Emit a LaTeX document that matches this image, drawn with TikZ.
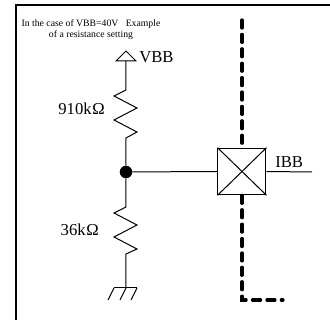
\documentclass[tikz,border=0pt]{standalone}
\usepackage{fontspec}
\setmainfont{Liberation Serif}
\usepackage{tikz}
\usetikzlibrary{positioning}
\usetikzlibrary{calc}
\tikzstyle{wire}=[line width=0.75pt]
\tikzstyle{frameline}=[line width=1.5pt]
\tikzstyle{bus}=[line width=2.4pt,line cap=round,dash pattern=on 6pt off 4.8pt]
\tikzstyle{junction}=[circle,fill=black,draw,minimum size=9pt,inner sep=0pt]
\tikzstyle{driver}=[rectangle,draw,line width=0.75pt,fill=white,minimum width=36pt,minimum height=35pt,inner sep=0pt]
\tikzstyle{caption}=[font=\fontsize{7.3pt}{9pt}\selectfont,inner sep=0pt]
\tikzstyle{value}=[font=\fontsize{12.5pt}{15pt}\selectfont,inner sep=0pt]

\begin{document}
\begin{tikzpicture}[x=0.75pt,y=-0.75pt]
    \useasboundingbox (0,0) rectangle (330,320);

    \foreach \pos/\name in {{(16,320)/framebottom}, {(16,5)/framecorner}, {(330,5)/frameright}, {(126,61)/vbbfoot}, {(126,90)/upperin}, {(126,138)/upperout}, {(126,207)/lowerin}, {(126,254)/lowerout}, {(126,288)/gnd}, {(312,172)/ibbend}, {(242,20)/bustop}, {(242,300)/buscorner}, {(283,300)/busend}}
        \node[coordinate] (\name) at \pos {};

    \node[junction] (tap) at (126,172) {};
    \node[driver] (box) at (242,171.5) {};

%frame
    \draw[frameline] (framebottom) -- (framecorner) -- (frameright);

%supply and resistors
    \draw[wire] (126,51) -- (136,61) -- (116,61) -- cycle;
    \draw[wire] (vbbfoot) -- (upperin) -- ++(-12,6) -- ++(23,12) -- ++(-23,12) -- ++(23,12) -- (upperout) -- (tap);
    \draw[wire] (tap) -- (lowerin) -- ++(-12,6) -- ++(23,12) -- ++(-23,12) -- ++(23,12) -- (lowerout) -- (gnd);

%ground
    \draw[wire] (114,288) -- (137,288);
    \foreach \x in {114,126,137}
        \draw[wire] (\x,288) -- ++(-6,12);

%driver
    \draw[wire] (tap) -- (box.west);
    \draw[wire] (box.east) -- (ibbend);
    \draw[wire] (box.north west) -- (box.south east);
    \draw[wire] (box.south west) -- (box.north east);

%dashed line
    \draw[bus] (bustop) -- (box.north);
    \draw[bus] (box.south) -- (buscorner) -- (busend);

    \node[caption] (note) at (91,24) {In the case of VBB=40V\hspace{0.5em} Example};
    \node[caption] (note2) at (91,35) {of a resistance setting};
    \node[value,anchor=west] (vbb) at (139,57) {VBB};
    \node[value,anchor=east] (upper) at (105,108.5) {910k\kern0.5ptΩ};
    \node[value,anchor=east] (lower) at (99,229.5) {36k\kern0.5ptΩ};
    \node[value,anchor=base west] (ibb) at (275,168) {IBB};
\end{tikzpicture}
\end{document}
